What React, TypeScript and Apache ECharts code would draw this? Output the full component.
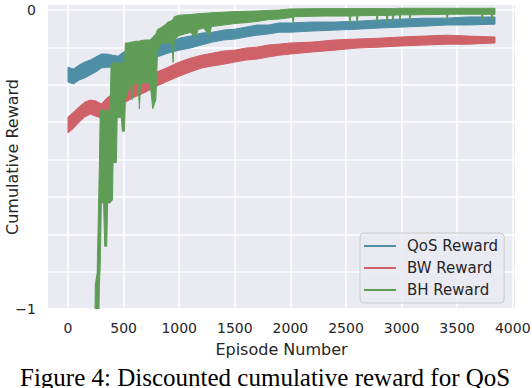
import React, { useEffect, useRef } from "react";
import * as echarts from "echarts";

const xTicks = [0, 500, 1000, 1500, 2000, 2500, 3000, 3500, 4000];
const yGrid = [-1, -0.875, -0.75, -0.625, -0.5, -0.375, -0.25, -0.125, 0];
const yLabelValues = [-1, 0];
const seriesNames = ["QoS Reward", "BW Reward", "BH Reward"];
const seriesColors = ["#4f8fa6", "#cf6168", "#5f9d57"];

// QoS Reward band (episode, lower edge, upper edge)
const qosEpisodes = [0, 50, 100, 150, 200, 250, 300, 350, 400, 450, 500, 600, 700, 800, 900, 1000, 1100, 1200, 1300, 1400, 1500, 1600, 1700, 1800, 1900, 2000, 2200, 2400, 2600, 2800, 3000, 3200, 3400, 3600, 3840];
const qosHigh = [-0.191, -0.197, -0.184, -0.174, -0.167, -0.157, -0.147, -0.147, -0.151, -0.154, -0.14, -0.134, -0.124, -0.117, -0.107, -0.094, -0.087, -0.077, -0.074, -0.067, -0.064, -0.057, -0.05, -0.05, -0.043, -0.043, -0.04, -0.04, -0.037, -0.033, -0.03, -0.027, -0.027, -0.023, -0.023];
const qosLow = [-0.241, -0.247, -0.234, -0.227, -0.217, -0.207, -0.194, -0.191, -0.191, -0.191, -0.184, -0.177, -0.167, -0.157, -0.144, -0.134, -0.127, -0.117, -0.107, -0.1, -0.097, -0.09, -0.084, -0.08, -0.074, -0.074, -0.07, -0.067, -0.064, -0.06, -0.057, -0.054, -0.05, -0.05, -0.047];

// BW Reward band
const bwEpisodes = [0, 50, 100, 150, 200, 250, 300, 350, 400, 500, 600, 700, 800, 900, 1000, 1100, 1200, 1300, 1400, 1500, 1600, 1700, 1800, 1900, 2000, 2200, 2400, 2600, 2800, 3000, 3200, 3400, 3600, 3840];
const bwHigh = [-0.358, -0.341, -0.324, -0.308, -0.301, -0.304, -0.314, -0.294, -0.281, -0.268, -0.244, -0.227, -0.207, -0.191, -0.174, -0.161, -0.151, -0.144, -0.137, -0.134, -0.127, -0.124, -0.117, -0.114, -0.11, -0.107, -0.1, -0.097, -0.094, -0.09, -0.087, -0.084, -0.087, -0.09];
const bwLow = [-0.411, -0.395, -0.375, -0.358, -0.348, -0.355, -0.361, -0.341, -0.328, -0.311, -0.291, -0.274, -0.254, -0.237, -0.221, -0.207, -0.194, -0.187, -0.181, -0.174, -0.167, -0.164, -0.157, -0.151, -0.147, -0.14, -0.134, -0.127, -0.124, -0.12, -0.117, -0.114, -0.114, -0.11];

// BH Reward band
const bhEpisodes = [0, 240, 245, 262, 270, 282, 290, 300, 320, 330, 348, 356, 378, 388, 400, 405, 435, 442, 480, 488, 508, 516, 540, 565, 578, 590, 630, 642, 652, 700, 740, 762, 790, 805, 830, 870, 900, 935, 945, 955, 1000, 1050, 1100, 1150, 1170, 1220, 1270, 1290, 1400, 1500, 1600, 1700, 1800, 1900, 2000, 2017, 2025, 2033, 2300, 2528, 2536, 2544, 2592, 2600, 2608, 2772, 2780, 2788, 2862, 2870, 2878, 2915, 2923, 2931, 2977, 2985, 2993, 3067, 3075, 3083, 3402, 3410, 3418, 3717, 3725, 3733, 3805, 3813, 3821, 3840];
const bhLow = [-1.3, -1.3, -1.3, -1.3, -1.2, -0.92, -0.85, -0.645, -0.645, -0.79, -0.79, -0.645, -0.645, -0.64, -0.635, -0.51, -0.51, -0.36, -0.36, -0.405, -0.405, -0.3, -0.27, -0.25, -0.3, -0.25, -0.24, -0.33, -0.25, -0.24, -0.25, -0.33, -0.3, -0.14, -0.115, -0.11, -0.11, -0.115, -0.175, -0.1, -0.085, -0.08, -0.075, -0.09, -0.065, -0.06, -0.085, -0.055, -0.05, -0.045, -0.042, -0.038, -0.032, -0.03, -0.025, -0.025, -0.043, -0.022, -0.02, -0.02, -0.043, -0.02, -0.019, -0.043, -0.019, -0.018, -0.04, -0.018, -0.018, -0.04, -0.018, -0.017, -0.04, -0.017, -0.016, -0.033, -0.016, -0.016, -0.033, -0.016, -0.014, -0.033, -0.014, -0.014, -0.033, -0.014, -0.014, -0.033, -0.014, -0.014];
const bhHigh = [-1.15, -1.15, -0.92, -0.88, -0.74, -0.52, -0.335, -0.335, -0.335, -0.335, -0.335, -0.335, -0.335, -0.177, -0.177, -0.177, -0.177, -0.177, -0.177, -0.177, -0.177, -0.11, -0.11, -0.107, -0.107, -0.105, -0.104, -0.104, -0.102, -0.1, -0.1, -0.09, -0.08, -0.065, -0.06, -0.05, -0.04, -0.035, -0.03, -0.022, -0.017, -0.016, -0.015, -0.013, -0.012, -0.011, -0.01, -0.009, -0.007, -0.005, -0.004, -0.003, -0.001, 0, 0.004, 0.004, 0.004, 0.004, 0.005, 0.005, 0.005, 0.005, 0.005, 0.005, 0.005, 0.005, 0.005, 0.005, 0.005, 0.005, 0.005, 0.005, 0.005, 0.005, 0.006, 0.006, 0.006, 0.006, 0.006, 0.006, 0.006, 0.006, 0.006, 0.006, 0.006, 0.006, 0.006, 0.006, 0.006, 0.006];

const caption = "Figure 4: Discounted cumulative reward for QoS";

function bandSeries(name: string, color: string, eps: number[], lo: number[], hi: number[]) {
  const data = eps.map((e, i) => [e, lo[i], hi[i]]);
  return {
    type: "custom",
    name,
    clip: true,
    silent: true,
    itemStyle: { color },
    encode: { x: 0, y: [1, 2] },
    data,
    renderItem: (params: any, api: any) => {
      if (params.dataIndex !== 0) return null;
      const top = data.map((d) => api.coord([d[0], d[2]]));
      const bottom = data.map((d) => api.coord([d[0], d[1]])).reverse();
      return {
        type: "polygon",
        shape: { points: top.concat(bottom) },
        style: { fill: color, stroke: color, lineWidth: 1 },
      };
    },
  };
}

export default function App() {
  const ref = useRef<HTMLDivElement>(null);
  useEffect(() => {
    if (!ref.current) return;
    const chart = echarts.init(ref.current, undefined, { renderer: "svg" });
    const font = "DejaVu Sans";
    chart.setOption({
      animation: false,
      backgroundColor: "#ffffff",
      grid: {
        left: 48,
        right: 17,
        top: 5,
        bottom: 79,
        show: true,
        backgroundColor: "#EAEAF2",
        borderWidth: 0,
        containLabel: false,
        outerBoundsMode: "none",
      },
      legend: {
        orient: "vertical",
        left: 360,
        top: 233,
        icon: "rect",
        itemWidth: 32,
        itemHeight: 2,
        itemGap: 6,
        padding: [5, 6, 5, 4],
        backgroundColor: "rgba(234,234,242,0.8)",
        borderColor: "#cccccc",
        borderWidth: 1,
        borderRadius: 4,
        data: seriesNames,
        textStyle: { fontFamily: font, fontSize: 15, color: "#262626", lineHeight: 16, padding: [0, 0, 0, 6] },
      },
      xAxis: {
        type: "value",
        min: -180,
        max: 4020,
        name: "Episode Number",
        nameLocation: "middle",
        nameGap: 32,
        nameMoveOverlap: false,
        nameTextStyle: { fontFamily: font, fontSize: 16, color: "#262626" },
        axisLine: { show: false },
        axisTick: { show: false, customValues: xTicks },
        axisLabel: {
          customValues: xTicks,
          fontFamily: font,
          fontSize: 14,
          color: "#262626",
          margin: 12,
          formatter: (v: number) => String(v),
        },
        splitLine: { show: true, lineStyle: { color: "#ffffff", width: 1.5 } },
      },
      yAxis: {
        type: "value",
        min: -1,
        max: 0.017,
        name: "Cumulative Reward",
        nameLocation: "middle",
        nameGap: 28,
        nameMoveOverlap: false,
        nameTextStyle: { fontFamily: font, fontSize: 16, color: "#262626" },
        axisLine: { show: false },
        axisTick: { show: false, customValues: yGrid },
        axisLabel: {
          customValues: yLabelValues,
          fontFamily: font,
          fontSize: 14,
          color: "#262626",
          margin: 12,
          formatter: (v: number) => (v < 0 ? "\u2212" + Math.abs(v) : String(v)),
        },
        splitLine: { show: true, lineStyle: { color: "#ffffff", width: 1.5 } },
      },
      graphic: [
        {
          type: "text",
          left: 20,
          top: 365,
          style: { text: caption, font: '25px "Liberation Serif"', fill: "#000000" },
        },
      ],
      series: [
        bandSeries(seriesNames[0], seriesColors[0], qosEpisodes, qosLow, qosHigh),
        bandSeries(seriesNames[1], seriesColors[1], bwEpisodes, bwLow, bwHigh),
        bandSeries(seriesNames[2], seriesColors[2], bhEpisodes, bhLow, bhHigh),
      ],
    });
    return () => chart.dispose();
  }, []);
  return <div ref={ref} style={{ position: "absolute", left: 0, top: 0, width: 532, height: 388 }} />;
}
